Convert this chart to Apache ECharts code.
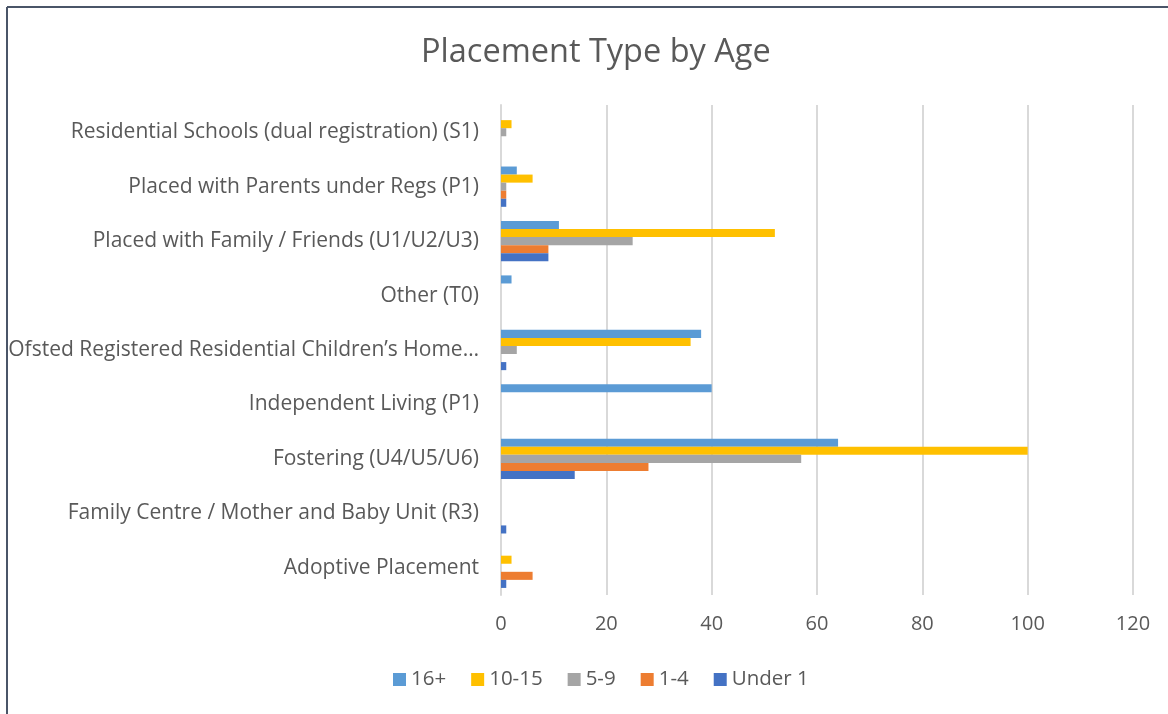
<!DOCTYPE html>
<html>
<head>
<meta charset="utf-8">
<script src="https://cdn.jsdelivr.net/npm/echarts@6/dist/echarts.min.js"></script>
<style>
  html, body { margin: 0; padding: 0; background: #fff; }
  #chart { width: 1168px; height: 714px; }
</style>
</head>
<body>
<div id="chart"></div>
<script>
// categories listed bottom to top (category axis starts at the bottom)
const categories = [
  'Adoptive Placement',
  'Family Centre / Mother and Baby Unit (R3)',
  'Fostering (U4/U5/U6)',
  'Independent Living (P1)',
  'Ofsted Registered Residential Children\u2019s Home\u2026',
  'Other (T0)',
  'Placed with Family / Friends (U1/U2/U3)',
  'Placed with Parents under Regs (P1)',
  'Residential Schools (dual registration) (S1)'
]
const age16plus = [0, 0, 64, 40, 38, 2, 11, 3, 0]
const age10to15 = [2, 0, 100, 0, 36, 0, 52, 6, 2]
const age5to9 = [0, 0, 57, 0, 3, 0, 25, 1, 1]
const age1to4 = [6, 0, 28, 0, 0, 0, 9, 1, 0]
const under1 = [1, 1, 14, 0, 1, 0, 9, 1, 0]
const xTicks = [0, 20, 40, 60, 80, 100, 120]

const font = 'Open Sans'
const textColor = '#595959'

const seriesDefs = [
  { name: '16+', data: age16plus, color: '#5B9BD5' },
  { name: '10-15', data: age10to15, color: '#FFC000' },
  { name: '5-9', data: age5to9, color: '#A5A5A5' },
  { name: '1-4', data: age1to4, color: '#ED7D31' },
  { name: 'Under 1', data: under1, color: '#4472C4' }
]

const chart = echarts.init(document.getElementById('chart'))

chart.setOption({
  animation: false,
  title: {
    text: 'Placement Type by Age',
    left: 416,
    top: 31,
    textStyle: { fontFamily: font, fontSize: 32.5, fontWeight: 'normal', color: textColor }
  },
  legend: {
    bottom: 19,
    left: 388,
    itemWidth: 13,
    itemHeight: 13,
    itemGap: 25,
    icon: 'rect',
    data: seriesDefs.map(s => s.name),
    textStyle: { fontFamily: font, fontSize: 20.5, color: textColor }
  },
  graphic: [
    { type: 'line', shape: { x1: 7, y1: 7, x2: 1168, y2: 7 }, style: { stroke: '#4a5568', lineWidth: 2 } },
    { type: 'line', shape: { x1: 7, y1: 7, x2: 7, y2: 714 }, style: { stroke: '#4a5568', lineWidth: 2 } }
  ],
  grid: { left: 501, right: 35, top: 105, bottom: 119, containLabel: false },
  xAxis: {
    type: 'value',
    min: 0,
    max: xTicks[xTicks.length - 1],
    interval: 20,
    axisLine: { show: false },
    axisTick: { show: false },
    axisLabel: { fontFamily: font, fontSize: 20, color: textColor, margin: 19 },
    splitLine: { lineStyle: { color: '#D9D9D9', width: 2 } }
  },
  yAxis: {
    type: 'category',
    data: categories,
    axisLine: { lineStyle: { color: '#D9D9D9', width: 2 } },
    axisTick: { show: false },
    axisLabel: { fontFamily: font, fontSize: 21, color: textColor, margin: 22 }
  },
  series: seriesDefs.map(s => ({
    name: s.name,
    type: 'bar',
    data: s.data,
    barGap: '0%',
    barCategoryGap: '26%',
    itemStyle: { color: s.color }
  }))
})
</script>
</body>
</html>
